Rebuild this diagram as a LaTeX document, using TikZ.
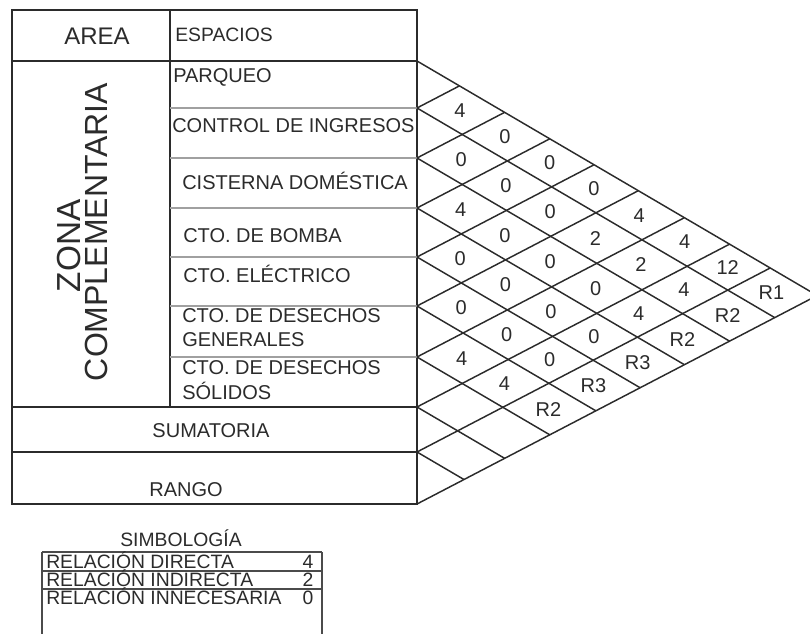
\documentclass[tikz,border=0pt]{standalone}
\usepackage{fontspec}
\setmainfont{Liberation Sans}
\definecolor{ink}{HTML}{2B2B2B}
\definecolor{thinline}{HTML}{A0A0A0}
\begin{document}
\begin{tikzpicture}[x=0.75pt,y=-0.75pt,
  frame/.style={draw=ink,line width=1.4pt},
  rowline/.style={draw=thinline,line width=0.8pt},
  gridline/.style={draw=ink,line width=1.1pt},
  legline/.style={draw=ink!85,line width=1.2pt},
  txt/.style={text=ink,inner sep=0pt,font=\fontsize{15}{18}\selectfont},
  entry/.style={txt,anchor=base west},
  num/.style={text=ink,inner sep=0pt,font=\fontsize{15}{17}\selectfont},
  legtxt/.style={txt,font=\fontsize{14.5}{17}\selectfont,anchor=base west}]
\useasboundingbox (0,0) rectangle (810,634);
\clip (0,0) rectangle (810,634);

% table frame
\draw[frame] (12,10) rectangle (417,504);
\draw[frame] (12,61) -- (417,61);
\draw[frame] (170,10) -- (170,407);
\draw[frame] (12,407) -- (417,407);
\draw[frame] (12,452) -- (417,452);
\foreach \y in {108,158,208,257,306,357} \draw[rowline] (170,\y) -- (417,\y);

% diagonal grid
\def\sd{0.586}
\def\su{0.521}
\foreach \a/\y in {0/61,1/108,2/158,3/208,4/257,5/306,6/357,7/407,8/452} {
  \pgfmathsetmacro\X{(504-\y)/(\sd+\su)}
  \coordinate (L\a) at (417,\y);
  \coordinate (D\a) at ({417+\X},{\y+\sd*\X});
  \draw[gridline] (L\a) -- (D\a);
}
\foreach \b/\y in {1/108,2/158,3/208,4/257,5/306,6/357,7/407,8/452,9/504} {
  \pgfmathsetmacro\X{(\y-61)/(\sd+\su)}
  \coordinate (M\b) at (417,\y);
  \coordinate (U\b) at ({417+\X},{\y-\su*\X});
  \draw[gridline] (M\b) -- (U\b);
}

% cell values
\def\cs{{84.5,133,183,232.5,281.5,331.5,382,429.5,478}}
\foreach \i/\j/\t in {1/2/4,1/3/0,1/4/0,1/5/0,1/6/4,1/7/4,1/8/12,1/9/R1,
  2/3/0,2/4/0,2/5/0,2/6/2,2/7/2,2/8/4,2/9/R2,
  3/4/4,3/5/0,3/6/0,3/7/0,3/8/4,3/9/R2,
  4/5/0,4/6/0,4/7/0,4/8/0,4/9/R3,
  5/6/0,5/7/0,5/8/0,5/9/R3,
  6/7/4,6/8/4,6/9/R2} {
  \pgfmathsetmacro\ci{\cs[\i-1]}
  \pgfmathsetmacro\cj{\cs[\j-1]}
  \pgfmathsetmacro\X{(\cj-\ci)/(\sd+\su)}
  \node[num] (c\i\j) at ({417+\X-1},{\ci+\sd*\X}) {\t};
}

% table texts
\node[txt,font=\fontsize{18}{21}\selectfont,anchor=base] (area) at (97,45) {AREA};
\node[entry,font=\fontsize{14.5}{17}\selectfont] (esp) at (175,42) {ESPACIOS};
\node[entry] (parq) at (173,83) {PARQUEO};
\node[entry] (ctrl) at (172,133) {CONTROL DE INGRESOS};
\node[entry] (cist) at (182,190) {CISTERNA DOMÉSTICA};
\node[entry] (bomba) at (183,243) {CTO. DE BOMBA};
\node[entry] (elec) at (183,283) {CTO. ELÉCTRICO};
\node[entry] (gena) at (182,323) {CTO. DE DESECHOS};
\node[entry] (genb) at (182,347) {GENERALES};
\node[entry] (sola) at (182,375) {CTO. DE DESECHOS};
\node[entry] (solb) at (182,400) {SÓLIDOS};
\node[txt,anchor=base] (sum) at (211,437) {SUMATORIA};
\node[txt,anchor=base] (rango) at (186,496) {RANGO};
\node[txt,font=\fontsize{25}{28}\selectfont,rotate=90,anchor=base] (zona) at (80,246) {ZONA};
\node[txt,font=\fontsize{24}{28}\selectfont,rotate=90,anchor=base] (compl) at (107,232) {COMPLEMENTARIA};

% legend
\node[txt,font=\fontsize{14.5}{17}\selectfont,anchor=base] (simb) at (181,546) {SIMBOLOGÍA};
\coordinate (g1) at (42,552);
\coordinate (g2) at (322,552);
\coordinate (g3) at (42,571);
\coordinate (g4) at (322,571);
\coordinate (g5) at (42,589);
\coordinate (g6) at (322,589);
\coordinate (g7) at (42,640);
\coordinate (g8) at (322,640);
\draw[legline] (g1) -- (g2);
\draw[legline] (g3) -- (g4);
\draw[legline] (g5) -- (g6);
\draw[legline] (g1) -- (g7);
\draw[legline] (g2) -- (g8);
\node[legtxt] (r1) at (46,568) {RELACIÓN DIRECTA};
\node[legtxt] (r2) at (46,586) {RELACIÓN INDIRECTA};
\node[legtxt] (r3) at (46,604) {RELACIÓN INNECESARIA};
\node[legtxt,anchor=base] (v1) at (308,568) {4};
\node[legtxt,anchor=base] (v2) at (308,586) {2};
\node[legtxt,anchor=base] (v3) at (308,604) {0};
\end{tikzpicture}
\end{document}
